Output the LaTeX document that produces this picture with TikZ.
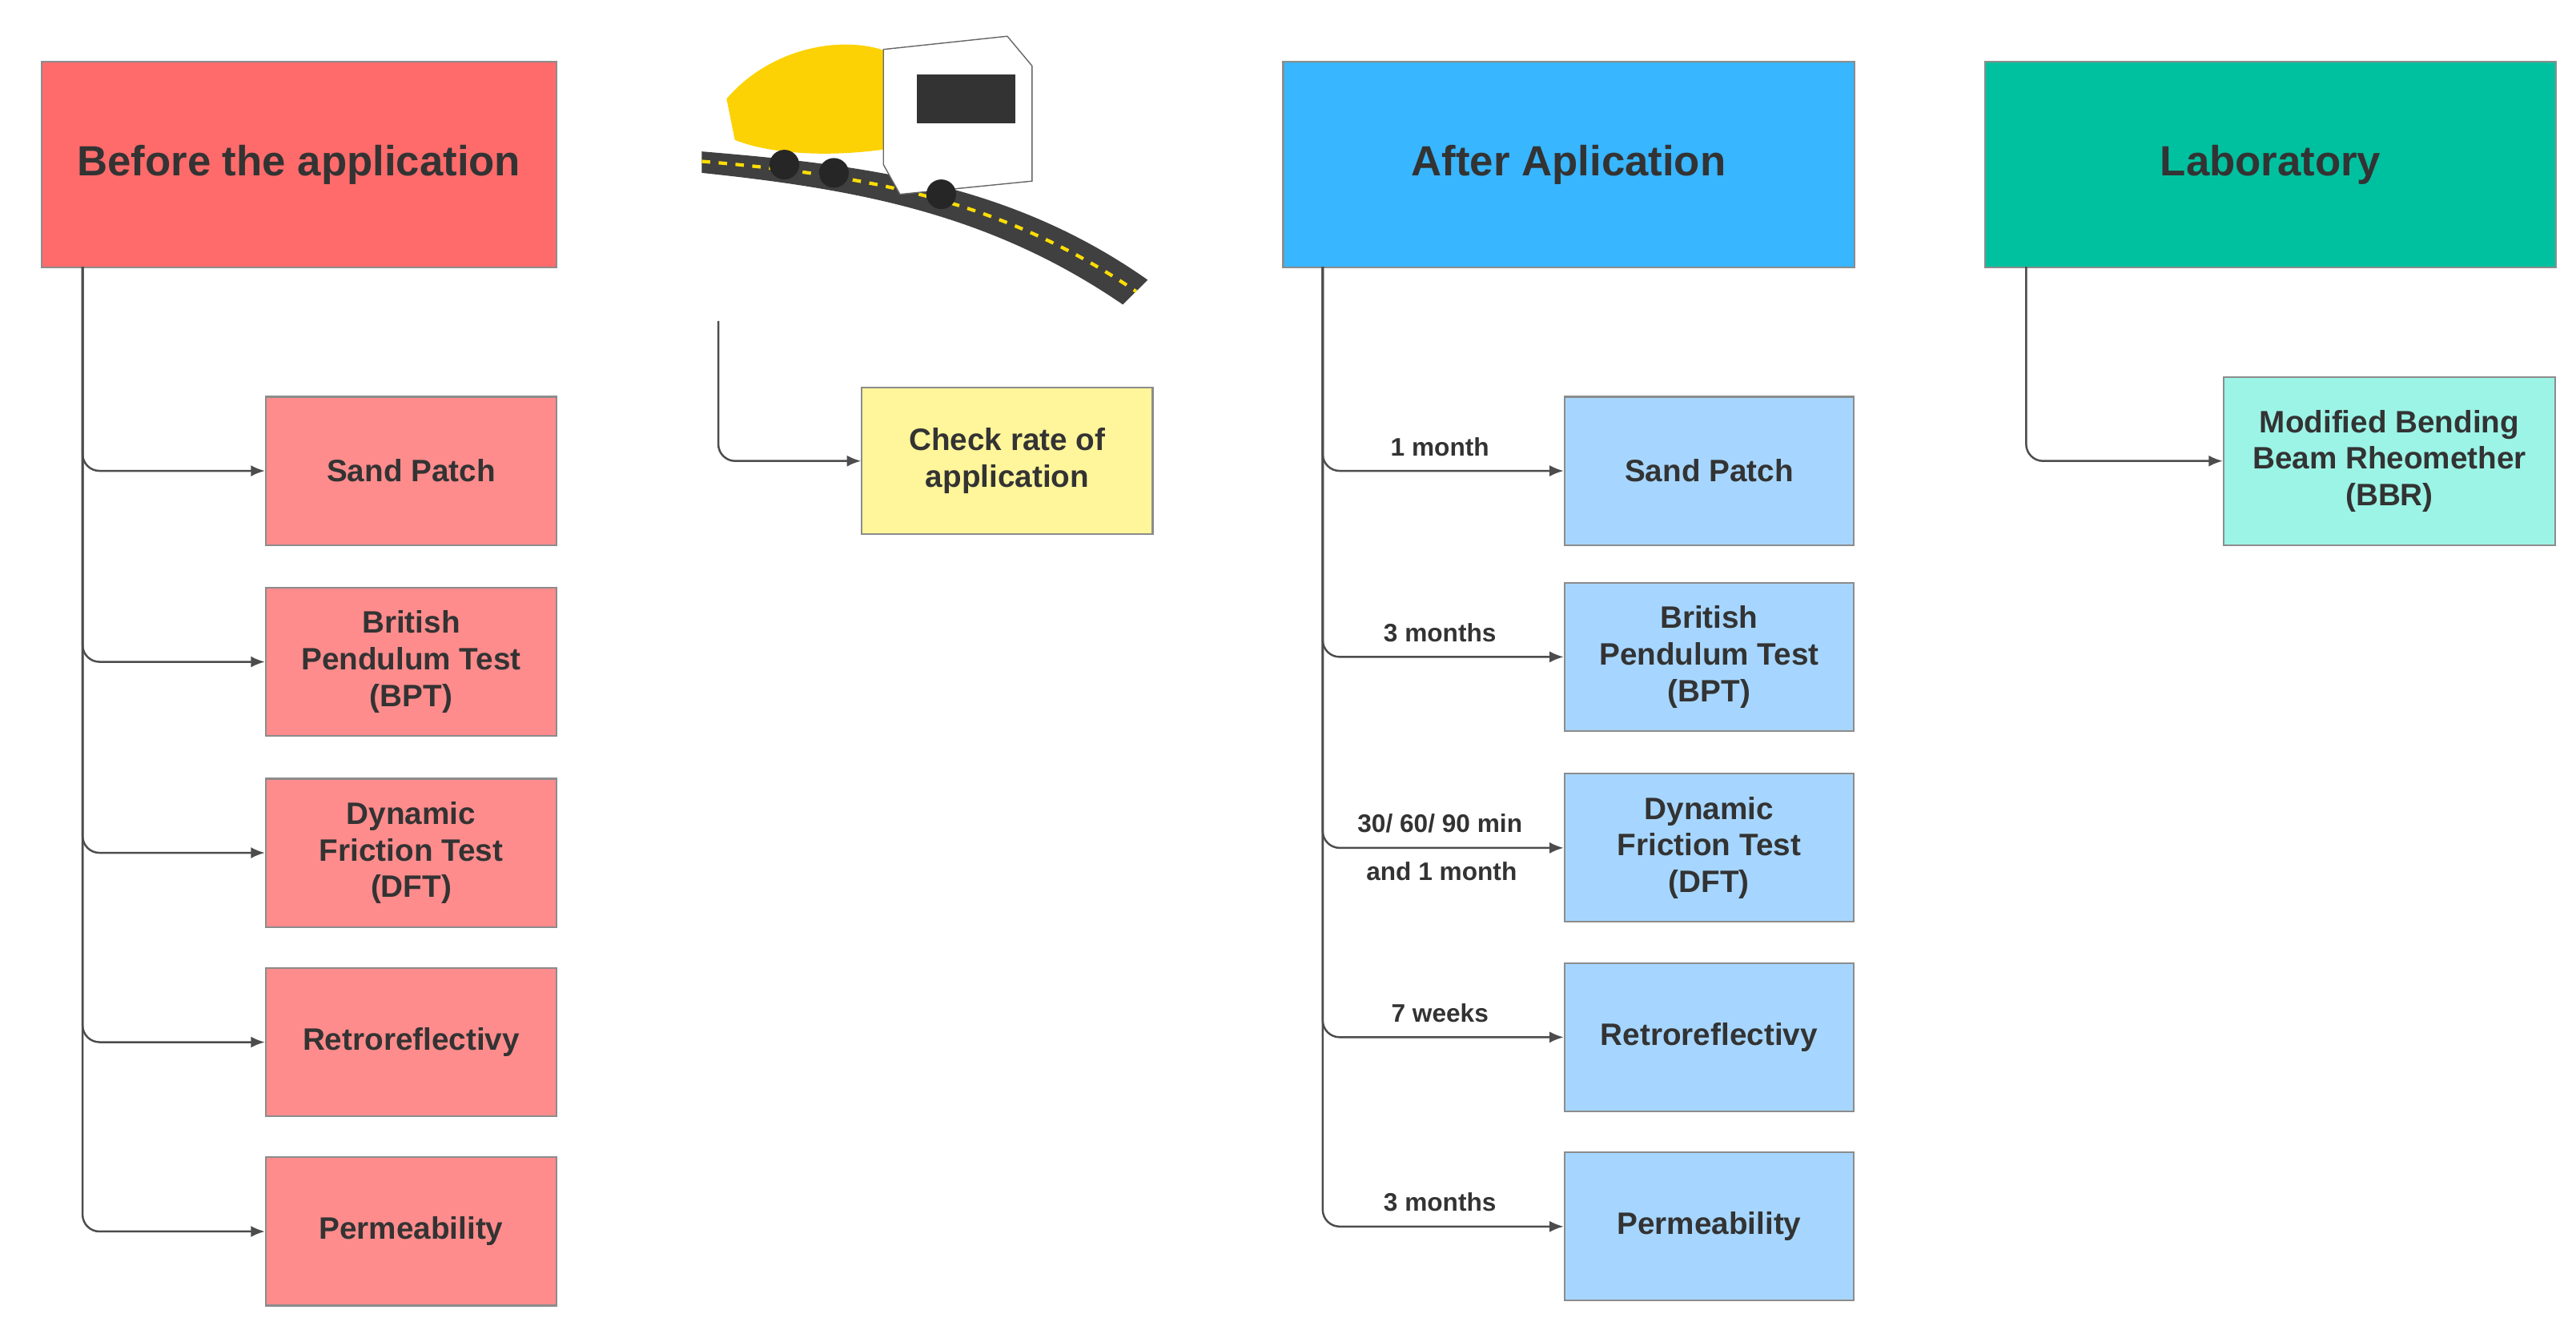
\documentclass[tikz,border=0pt]{standalone}
\usepackage{fontspec}
\setmainfont{Liberation Sans}
\usetikzlibrary{arrows.meta}
\definecolor{redh}{HTML}{FF6B6B}
\definecolor{redb}{HTML}{FF8C8C}
\definecolor{blueh}{HTML}{38B6FF}
\definecolor{blueb}{HTML}{A6D6FF}
\definecolor{teal1}{HTML}{00C19F}
\definecolor{teal2}{HTML}{9CF4E6}
\definecolor{yel}{HTML}{FFF59A}
\definecolor{txt}{HTML}{333333}
\begin{document}
\begin{tikzpicture}[x=0.02062cm,y=-0.02055cm,
  box/.style={draw=black!45,line width=0.6pt,text=txt,align=center,font=\bfseries\fontsize{11}{13}\selectfont,inner sep=0pt},
  head/.style={box,font=\bfseries\fontsize{15}{18}\selectfont},
  con/.style={draw=black!70,line width=0.7pt,rounded corners=6pt,-{Latex[length=5pt,width=4pt]}},
  lab/.style={text=txt,font=\bfseries\fontsize{9}{11}\selectfont,align=center}]
\useasboundingbox (0,0) rectangle (1560,815);
\newcommand\bx[6]{\node[#1,fill=#2,minimum width=(#5-#3)*0.02062cm,minimum height=(#6-#4)*0.02055cm] (#2#3#4) at ({(#3+#5)/2},{(#4+#6)/2}) {};}
% heads
\node[head,fill=redh,minimum width=6.43cm,minimum height=2.57cm] (before) at (181,100) {Before the application};
\node[head,fill=blueh,minimum width=7.13cm,minimum height=2.57cm] (after) at (950,100) {After Aplication};
\node[head,fill=teal1,minimum width=7.13cm,minimum height=2.57cm] (lab) at (1375,100) {Laboratory};
% left boxes
\foreach \n/\y/\t in {l1/286/Sand Patch,l2/402/British\\Pendulum Test\\(BPT),l3/518/Dynamic\\Friction Test\\(DFT),l4/633/Retroreflectivy,l5/748/Permeability}{
  \node[box,fill=redb,minimum width=3.63cm,minimum height=1.85cm] (\n) at (249,\y) {\t};
  \draw[con] (50,162) |- (\n.west);
}
% right boxes
\foreach \n/\y/\t/\l in {r1/286/Sand Patch/1 month,r2/399/British\\Pendulum Test\\(BPT)/3 months,r3/515/Dynamic\\Friction Test\\(DFT)/{30/ 60/ 90 min},r4/630/Retroreflectivy/7 weeks,r5/745/Permeability/3 months}{
  \node[box,fill=blueb,minimum width=3.61cm,minimum height=1.85cm] (\n) at (1035,\y) {\t};
  \draw[con] (801,162) |- (\n.west);
  \node[lab,anchor=south] at (872,\y-3) {\l};
}
\node[lab] at (873,529) {and 1 month};
% check rate
\node[box,fill=yel,minimum width=3.63cm,minimum height=1.83cm] (chk) at (610,280) {Check rate of\\application};
\coordinate (cs) at (435,195);
\draw[con] (cs) |- (chk.west);
% lab
\node[box,fill=teal2,minimum width=4.14cm,minimum height=2.1cm] (bbr) at (1447,280) {Modified Bending\\Beam Rheomether\\(BBR)};
\draw[con] (1227,162) |- (bbr.west);
% truck illustration (simplified)
\fill[black!75] (425,92) .. controls (520,100) and (610,110) .. (695,170) -- (680,185) .. controls (600,130) and (520,115) .. (425,105) -- cycle;
\draw[yellow!80!orange,line width=1.2pt,dashed] (425,98) .. controls (520,106) and (605,120) .. (688,177);
\fill[yellow!70!orange] (440,60) .. controls (470,25) and (520,20) .. (545,35) -- (540,90) .. controls (510,95) and (470,95) .. (445,85) -- cycle;
\fill[white,draw=black!60] (535,30) -- (610,22) -- (625,40) -- (625,110) -- (545,118) -- (535,100) -- cycle;
\fill[black!80] (555,45) rectangle (615,75);
\fill[black!85] (475,100) circle (9) (505,105) circle (9) (570,118) circle (9);
\end{tikzpicture}
\end{document}
